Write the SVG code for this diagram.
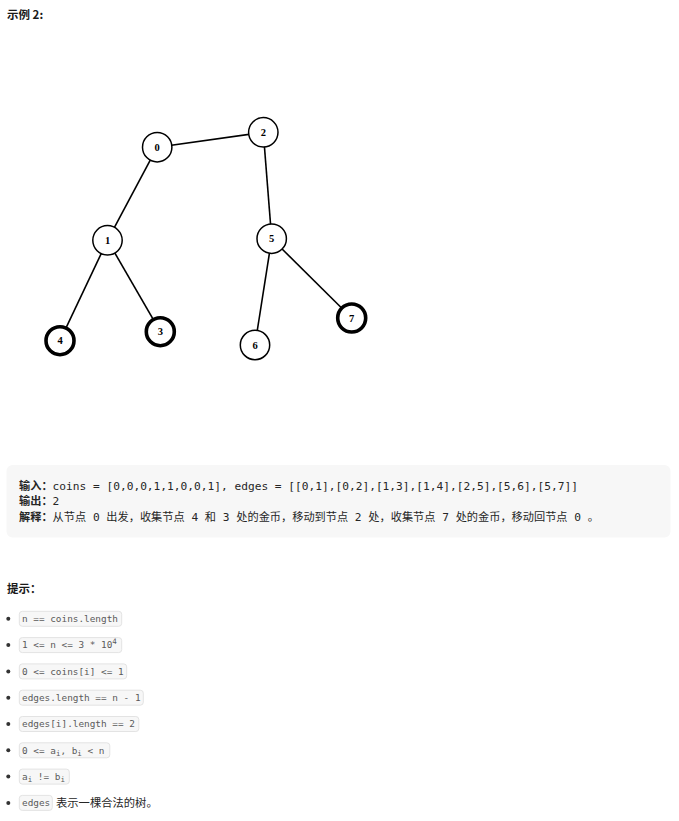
<svg xmlns="http://www.w3.org/2000/svg" width="679" height="821" viewBox="0 0 679 821">
<style>
.h{font-family:"Noto Sans CJK SC","Liberation Sans",sans-serif;font-weight:bold;font-size:11.5px;fill:#1a1a1a}
.node circle{fill:#fff;stroke:#000;stroke-width:1.5}
.node.thick circle{stroke-width:3.6}
.node text{font-family:"Liberation Serif","DejaVu Serif",serif;font-weight:bold;font-size:10.5px;fill:#000;text-anchor:middle}
.edges line{stroke:#000;stroke-width:1.6}
.pre{font-family:"DejaVu Sans Mono","Noto Sans CJK SC",monospace;font-size:11.2px;fill:#262626}
.b{font-weight:600}
.code rect{fill:#f7f7f7;stroke:#e3e3e3;stroke-width:1}
.code text{font-family:"DejaVu Sans Mono",monospace;font-size:9.4px;fill:#5a5a5a}
.sub{font-size:7.5px}
.dot{fill:#333}
.cn{font-family:"Noto Sans CJK SC",sans-serif;font-size:11.3px;fill:#262626}
</style>
<rect width="679" height="821" fill="#fff"/>
<text class="h" x="7" y="18.5">示例 2:</text>

<g id="connectors" class="edges">
<line x1="157.2" y1="147.2" x2="263.3" y2="132.3"/>
<line x1="157.2" y1="147.2" x2="107.5" y2="240.3"/>
<line x1="263.3" y1="132.3" x2="271.7" y2="238.7"/>
<line x1="107.5" y1="240.3" x2="60" y2="340.7"/>
<line x1="107.5" y1="240.3" x2="160.3" y2="331.7"/>
<line x1="271.7" y1="238.7" x2="255" y2="345"/>
<line x1="271.7" y1="238.7" x2="351.7" y2="318"/>
</g>
<g id="node0" class="node"><circle cx="157.2" cy="147.2" r="14.7"/><text x="157.2" y="150.9">0</text></g>
<g id="node2" class="node"><circle cx="263.3" cy="132.3" r="14.7"/><text x="263.3" y="136">2</text></g>
<g id="node1" class="node"><circle cx="107.5" cy="240.3" r="14.7"/><text x="107.5" y="244">1</text></g>
<g id="node5" class="node"><circle cx="271.7" cy="238.7" r="14.7"/><text x="271.7" y="242.4">5</text></g>
<g id="node4" class="node thick"><circle cx="60" cy="340.7" r="14"/><text x="60" y="344.4">4</text></g>
<g id="node3" class="node thick"><circle cx="160.3" cy="331.7" r="14"/><text x="160.3" y="335.4">3</text></g>
<g id="node6" class="node"><circle cx="255" cy="345" r="14.7"/><text x="255" y="348.7">6</text></g>
<g id="node7" class="node thick"><circle cx="351.7" cy="318" r="14"/><text x="351.7" y="321.7">7</text></g>

<g id="example">
<rect x="6.5" y="465" width="664" height="72.5" rx="6" fill="#f7f7f7"/>
<text class="pre" x="19" y="489.5"><tspan class="b">输入：</tspan>coins = [0,0,0,1,1,0,0,1], edges = [[0,1],[0,2],[1,3],[1,4],[2,5],[5,6],[5,7]]</text>
<text class="pre" x="19" y="505"><tspan class="b">输出：</tspan>2</text>
<text class="pre" x="19" y="520.5"><tspan class="b">解释：</tspan>从节点 0 出发，收集节点 4 和 3 处的金币，移动到节点 2 处，收集节点 7 处的金币，移动回节点 0 。</text>
</g>

<text class="h" x="7" y="592.5">提示：</text>

<g id="tips">
<circle class="dot" cx="8.3" cy="618.8" r="2"/>
<g class="code"><rect x="19.3" y="611.3" width="102.4" height="15" rx="3"/><text x="22" y="622">n == coins.length</text></g>
<circle class="dot" cx="8.3" cy="645.1" r="2"/>
<g class="code"><rect x="19.3" y="637.6" width="102.4" height="15" rx="3"/><text x="22" y="648.3">1 &lt;= n &lt;= 3 * 10<tspan class="sub" dy="-4.5">4</tspan></text></g>
<circle class="dot" cx="8.3" cy="671.4" r="2"/>
<g class="code"><rect x="19.3" y="663.9" width="107.4" height="15" rx="3"/><text x="22" y="674.6">0 &lt;= coins[i] &lt;= 1</text></g>
<circle class="dot" cx="8.3" cy="697.7" r="2"/>
<g class="code"><rect x="19.3" y="690.2" width="124" height="15" rx="3"/><text x="22" y="700.9">edges.length == n - 1</text></g>
<circle class="dot" cx="8.3" cy="724" r="2"/>
<g class="code"><rect x="19.3" y="716.5" width="119.5" height="15" rx="3"/><text x="22" y="727.2">edges[i].length == 2</text></g>
<circle class="dot" cx="8.3" cy="750.3" r="2"/>
<g class="code"><rect x="19.3" y="742.8" width="90.5" height="15" rx="3"/><text x="22" y="753.5">0 &lt;= a<tspan class="sub" dy="2">i</tspan><tspan dy="-2">, b</tspan><tspan class="sub" dy="2">i</tspan><tspan dy="-2"> &lt; n</tspan></text></g>
<circle class="dot" cx="8.3" cy="776.6" r="2"/>
<g class="code"><rect x="19.3" y="769.1" width="50" height="15" rx="3"/><text x="22" y="779.8">a<tspan class="sub" dy="2">i</tspan><tspan dy="-2"> != b</tspan><tspan class="sub" dy="2">i</tspan></text></g>
<circle class="dot" cx="8.3" cy="802.9" r="2"/>
<g class="code"><rect x="19.3" y="795.4" width="33" height="15" rx="3"/><text x="22" y="806.1">edges</text></g>
<text class="cn" x="56" y="807">表示一棵合法的树。</text>
</g>
</svg>
